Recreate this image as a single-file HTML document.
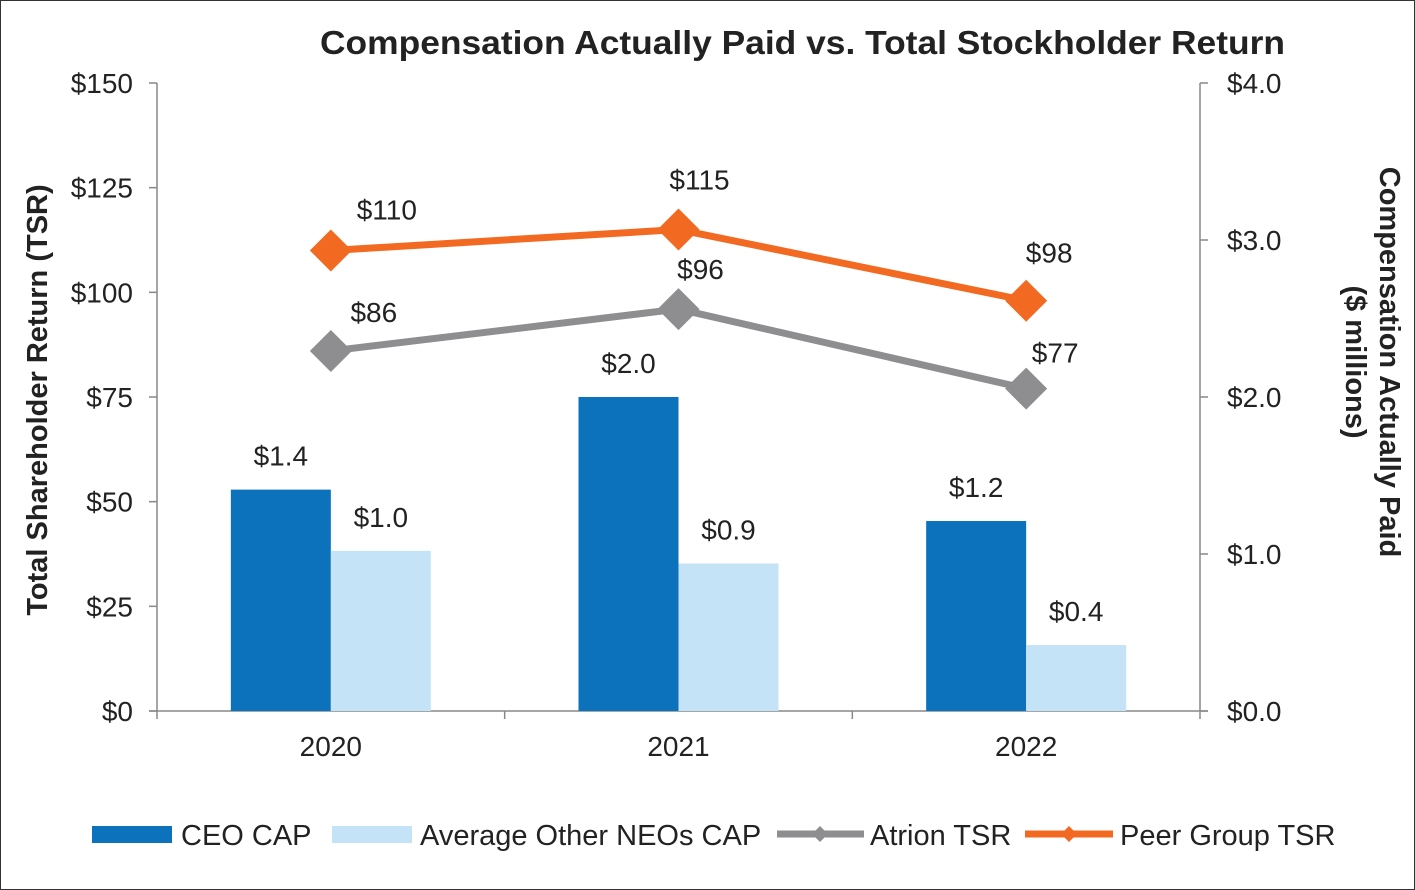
<!DOCTYPE html>
<html><head><meta charset="utf-8"><style>
body{margin:0;background:#fff;}
svg{display:block;font-family:"Liberation Sans",Arial,sans-serif;}
</style></head><body>
<svg id="chart" width="1415" height="890" viewBox="0 0 1415 890">
<rect x="0.5" y="0.5" width="1414" height="889" fill="#fff" stroke="#333" stroke-width="1"/>
<text x="320" y="54" textLength="965" lengthAdjust="spacingAndGlyphs" font-size="33" font-weight="bold" fill="#222">Compensation Actually Paid  vs. Total Stockholder Return</text>
<g id="axes"></g>
<g id="bars"></g>
<g id="lines"></g>
<text transform="translate(47,400) rotate(-90)" text-anchor="middle" font-size="29" font-weight="bold" fill="#222">Total Shareholder Return (TSR)</text>
<text transform="translate(1380,362) rotate(90)" text-anchor="middle" font-size="29" font-weight="bold" fill="#222">Compensation Actually Paid</text>
<text transform="translate(1346,362) rotate(90)" text-anchor="middle" font-size="29" font-weight="bold" fill="#222">($ millions)</text>
<g>
 <g><rect x="92" y="826" width="80" height="17" fill="#0b72bb"/><text x="181" y="845" font-size="29" fill="#222">CEO CAP</text></g>
 <g><rect x="332" y="826" width="80" height="17" fill="#c5e3f7"/><text x="420" y="845" font-size="29" fill="#222">Average Other NEOs CAP</text></g>
 <g><line x1="777" y1="834" x2="864" y2="834" stroke="#8e8e91" stroke-width="7"/><path d="M820 826 L828 834 L820 842 L812 834Z" fill="#8e8e91"/><text x="870" y="845" font-size="29" fill="#222">Atrion TSR</text></g>
 <g><line x1="1025" y1="834" x2="1113" y2="834" stroke="#f26a22" stroke-width="7"/><path d="M1069 826 L1077 834 L1069 842 L1061 834Z" fill="#f26a22"/><text x="1120" y="845" font-size="29" fill="#222">Peer Group TSR</text></g>
</g>
</svg>
<script>
const categories=["2020","2021","2022"];
const ceoCap=[1.41,2.0,1.21];
const neoCap=[1.02,0.94,0.42];
const ceoLabels=["$1.4","$2.0","$1.2"];
const neoLabels=["$1.0","$0.9","$0.4"];
const atrionTsr=[86,96,77];
const peerTsr=[110,115,98];
const leftTicks=[0,25,50,75,100,125,150];
const rightTicks=[0,1,2,3,4];
const atrionOff=[[43,-29],[22,-30],[29,-26]];
const peerOff=[[56,-31],[21,-40],[23,-38]];
const NS="http://www.w3.org/2000/svg";
const X0=157,X1=1200,Y0=711,Y1=83;
const band=(X1-X0)/categories.length;
const yL=v=>Y0-(v/150)*(Y0-Y1);
const yR=v=>Y0-(v/4)*(Y0-Y1);
const xc=i=>X0+band*(i+0.5);
function mk(tag,attrs,parent,txt){const e=document.createElementNS(NS,tag);for(const k in attrs)e.setAttribute(k,attrs[k]);if(txt!==undefined)e.textContent=txt;parent.appendChild(e);return e;}
const axes=document.getElementById('axes'),bars=document.getElementById('bars'),lines=document.getElementById('lines');
let e;
e=mk('line',{x1:X0,y1:Y1,x2:X0,y2:Y0,stroke:'#888','stroke-width':1.5},axes);


e=mk('line',{x1:X1,y1:Y1,x2:X1,y2:Y0,stroke:'#888','stroke-width':1.5},axes);


e=mk('line',{x1:X0-8,y1:Y0,x2:X1+8,y2:Y0,stroke:'#888','stroke-width':1.5},axes);


leftTicks.forEach(t=>{const y=yL(t);mk('line',{x1:X0-8,y1:y,x2:X0,y2:y,stroke:'#888','stroke-width':1.5},axes);
 e=mk('text',{x:X0-24,y:y+10,'text-anchor':'end','font-size':28,fill:'#222'},axes,'$'+t);
 
 });
rightTicks.forEach(t=>{const y=yR(t);mk('line',{x1:X1,y1:y,x2:X1+8,y2:y,stroke:'#888','stroke-width':1.5},axes);
 e=mk('text',{x:X1+27,y:y+10,'font-size':28,fill:'#222'},axes,'$'+t.toFixed(1));
 
 });
for(let i=0;i<=categories.length;i++){mk('line',{x1:X0+band*i,y1:Y0,x2:X0+band*i,y2:Y0+8,stroke:'#888','stroke-width':1.5},axes);}
categories.forEach((c,i)=>{e=mk('text',{x:xc(i),y:756,'text-anchor':'middle','font-size':28,fill:'#222'},axes,c);
 
 });
const bw=100;
categories.forEach((c,i)=>{
 let y=yR(ceoCap[i]);
 e=mk('rect',{x:xc(i)-bw,y:y,width:bw,height:Y0-y,fill:'#0b72bb'},bars);
 
 
 e=mk('text',{x:xc(i)-bw/2,y:y-24,'text-anchor':'middle','font-size':28,fill:'#222'},bars,ceoLabels[i]);
 
 
 y=yR(neoCap[i]);
 e=mk('rect',{x:xc(i),y:y,width:bw,height:Y0-y,fill:'#c5e3f7'},bars);
 
 
 e=mk('text',{x:xc(i)+bw/2,y:y-24,'text-anchor':'middle','font-size':28,fill:'#222'},bars,neoLabels[i]);
 
 
});
function series(vals,color,name,off){
 const pts=vals.map((v,i)=>xc(i)+','+yL(v)).join(' ');
 e=mk('polyline',{points:pts,fill:'none',stroke:color,'stroke-width':7},lines);
 
 
 vals.forEach((v,i)=>{const x=xc(i),y=yL(v),r=21;
  e=mk('path',{d:`M${x} ${y-r}L${x+r} ${y}L${x} ${y+r}L${x-r} ${y}Z`,fill:color},lines);
  
  
  e=mk('text',{x:x+off[i][0],y:y+off[i][1],'text-anchor':'middle','font-size':28,fill:'#222'},lines,'$'+v);
  
  
 });
}
series(atrionTsr,'#8e8e91','atrion-tsr',atrionOff);
series(peerTsr,'#f26a22','peer-tsr',peerOff);
</script>
</body></html>
